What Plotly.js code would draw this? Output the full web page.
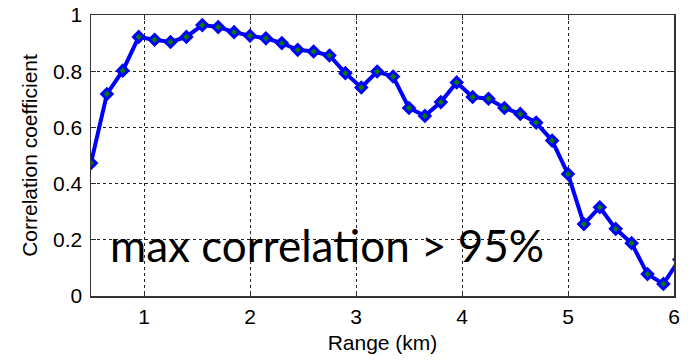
<!DOCTYPE html>
<html>
<head>
<meta charset="utf-8">
<script src="https://cdn.plot.ly/plotly-3.0.1.min.js"></script>
<style>html,body{margin:0;padding:0;background:#fff;}#chart{width:688px;height:361px;}</style>
</head>
<body>
<div id="chart"></div>
<script>
var rangeKm = [0.5, 0.65, 0.8, 0.95, 1.1, 1.25, 1.4, 1.55, 1.7, 1.85, 2.0, 2.15, 2.3, 2.45, 2.6, 2.75, 2.9, 3.05,
  3.2, 3.35, 3.5, 3.65, 3.8, 3.95, 4.1, 4.25, 4.4, 4.55, 4.7, 4.85, 5.0, 5.15, 5.3, 5.45, 5.6, 5.75, 5.9, 6.05];
var corrCoef = [0.473, 0.719, 0.802, 0.922, 0.912, 0.904, 0.922, 0.964, 0.957, 0.939, 0.926, 0.917, 0.900, 0.876,
  0.870, 0.856, 0.793, 0.742, 0.799, 0.781, 0.669, 0.641, 0.690, 0.760, 0.708, 0.702, 0.669, 0.648, 0.617, 0.553,
  0.434, 0.256, 0.316, 0.239, 0.188, 0.078, 0.043, 0.13];
var xTicks = [1, 2, 3, 4, 5, 6];
var yTicks = [0, 0.2, 0.4, 0.6, 0.8, 1];
var yTickText = ['0', '0.2', '0.4', '0.6', '0.8', '1'];
var noteText = 'max correlation > 95%';

var trace = {
  x: rangeKm, y: corrCoef, type: 'scatter', mode: 'lines+markers',
  line: {color: '#0000ff', width: 4},
  marker: {symbol: 'diamond', size: 8, color: '#008000', line: {color: '#0000ff', width: 3}},
  hoverinfo: 'none'
};
var tickFont = {family: 'Arial, "Liberation Sans", sans-serif', size: 21, color: '#000'};
var titleFont = {family: 'Arial, "Liberation Sans", sans-serif', size: 21, color: '#000'};
var layout = {
  width: 688, height: 361,
  margin: {l: 91, r: 14, t: 15, b: 65},
  paper_bgcolor: '#fff', plot_bgcolor: '#fff',
  showlegend: false,
  xaxis: {
    range: [0.5, 6], tickvals: xTicks, ticktext: xTicks.map(String),
    ticks: 'inside', ticklen: 5, tickcolor: '#333', mirror: 'ticks',
    showline: true, linecolor: '#333', linewidth: 1.5,
    showgrid: true, gridcolor: '#222', griddash: 'dot', gridwidth: 1,
    zeroline: false, tickfont: tickFont, ticklabelstandoff: 1,
    title: {text: 'Range (km)', font: titleFont, standoff: 8}
  },
  yaxis: {
    range: [0, 1], tickvals: yTicks, ticktext: yTickText,
    ticks: 'inside', ticklen: 5, tickcolor: '#333', mirror: 'ticks',
    showline: true, linecolor: '#333', linewidth: 1.5,
    showgrid: true, gridcolor: '#222', griddash: 'dot', gridwidth: 1,
    zeroline: false, tickfont: tickFont, ticklabelstandoff: 3,
    title: {text: 'Correlation coefficient', font: titleFont, standoff: 9}
  },
  annotations: [{
    text: noteText, xref: 'paper', yref: 'paper', x: 0.029, y: 0.18,
    xanchor: 'left', yanchor: 'middle', showarrow: false,
    font: {family: 'Lato, "Open Sans", sans-serif', size: 44, color: '#000'}
  }]
};
Plotly.newPlot('chart', [trace], layout, {staticPlot: true, displayModeBar: false});
</script>
</body>
</html>
